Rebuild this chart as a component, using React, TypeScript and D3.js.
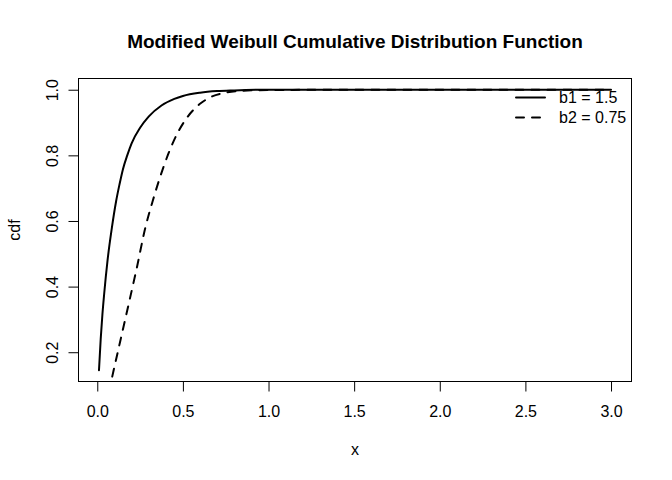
import React, { useEffect, useRef } from "react";
import * as d3 from "d3";

// values
const xSolid = [0.01, 0.02, 0.03, 0.04, 0.06, 0.085, 0.11, 0.13, 0.15, 0.175, 0.2, 0.25, 0.3, 0.375, 0.45, 0.5, 0.6, 0.7, 0.8, 1.0, 1.5, 2.0, 2.5, 3.0];
const ySolid = [0.145, 0.24, 0.315, 0.376, 0.48, 0.578, 0.66, 0.712, 0.758, 0.8, 0.836, 0.884, 0.918, 0.952, 0.972, 0.981, 0.991, 0.996, 0.998, 1.0, 1.0, 1.0, 1.0, 1.0];

const xDashed = [0.05, 0.085, 0.1, 0.15, 0.19, 0.23, 0.28, 0.325, 0.385, 0.45, 0.52, 0.6, 0.66, 0.75, 0.85, 1.0, 1.5, 2.0, 2.5, 3.0];
const yDashed = [0.03, 0.12, 0.155, 0.27, 0.362, 0.455, 0.578, 0.663, 0.762, 0.848, 0.912, 0.957, 0.977, 0.991, 0.997, 0.999, 1.0, 1.0, 1.0, 1.0];

const xTicks = [0, 0.5, 1.0, 1.5, 2.0, 2.5, 3.0];
const yTicks = [0.2, 0.4, 0.6, 0.8, 1.0];

const legendLabels = ["b1 = 1.5", "b2 = 0.75"];
const legendDash = ["none", "8,8"];

const title = "Modified Weibull Cumulative Distribution Function";

const FONT = "'Liberation Sans', Arial, Helvetica, sans-serif";

function App(): JSX.Element {
  const ref = useRef<SVGSVGElement>(null);

  useEffect(() => {
    if (!ref.current) return;
    const svg = d3.select(ref.current);
    svg.selectAll("*").remove();

    const left = 78.5;
    const right = 631.5;
    const top = 78.5;
    const bottom = 381.5;

    // R style 4% padding around the data range of the first curve
    const xr = [xSolid[0], xSolid[xSolid.length - 1]];
    const yr = [d3.min(ySolid)!, d3.max(ySolid)!];
    const xp = (xr[1] - xr[0]) * 0.04;
    const yp = (yr[1] - yr[0]) * 0.04;

    const x = d3.scaleLinear().domain([xr[0] - xp, xr[1] + xp]).range([left, right]);
    const y = d3.scaleLinear().domain([yr[0] - yp, yr[1] + yp]).range([bottom, top]);

    svg
      .append("defs")
      .append("clipPath")
      .attr("id", "plot-clip")
      .append("rect")
      .attr("x", left)
      .attr("y", top)
      .attr("width", right - left)
      .attr("height", bottom - top);

    const line = d3
      .line<number>()
      .x((d) => x(d))
      .curve(d3.curveMonotoneX);

    const curves = [
      { xs: xSolid, ys: ySolid, dash: legendDash[0] },
      { xs: xDashed, ys: yDashed, dash: legendDash[1] },
    ];

    curves.forEach((c) => {
      svg
        .append("path")
        .attr("clip-path", "url(#plot-clip)")
        .attr("d", line.y((_, i) => y(c.ys[i]))(c.xs))
        .attr("fill", "none")
        .attr("stroke", "#000")
        .attr("stroke-width", 2)
        .attr("stroke-linecap", "round")
        .attr("stroke-linejoin", "round")
        .attr("stroke-dasharray", c.dash);
    });

    // box
    svg
      .append("rect")
      .attr("x", left)
      .attr("y", top)
      .attr("width", right - left)
      .attr("height", bottom - top)
      .attr("fill", "none")
      .attr("stroke", "#000")
      .attr("stroke-width", 1);

    // x axis
    const gx = svg
      .append("g")
      .attr("transform", `translate(0,${bottom})`)
      .call(
        d3
          .axisBottom(x)
          .tickValues(xTicks)
          .tickSize(10)
          .tickSizeOuter(0)
          .tickPadding(14)
          .tickFormat((d) => (d as number).toFixed(1))
      );
    gx.select(".domain").attr("d", `M${x(xTicks[0])},0H${x(xTicks[xTicks.length - 1])}`);

    // y axis
    const gy = svg
      .append("g")
      .attr("transform", `translate(${left},0)`)
      .call(
        d3
          .axisLeft(y)
          .tickValues(yTicks)
          .tickSize(10)
          .tickSizeOuter(0)
          .tickFormat((d) => (d as number).toFixed(1))
      );
    gy.select(".domain").attr("d", `M0,${y(yTicks[0])}V${y(yTicks[yTicks.length - 1])}`);
    gy.selectAll(".tick text")
      .attr("x", null)
      .attr("dy", null)
      .attr("text-anchor", "middle")
      .attr("transform", "translate(-21,0) rotate(-90)");

    [gx, gy].forEach((g) => {
      g.selectAll("text").attr("font-family", FONT).attr("font-size", 16).attr("fill", "#000");
      g.selectAll("line, path").attr("stroke", "#000");
    });

    // axis titles
    svg
      .append("text")
      .attr("x", (left + right) / 2)
      .attr("y", 455)
      .attr("text-anchor", "middle")
      .attr("font-family", FONT)
      .attr("font-size", 16)
      .text("x");

    svg
      .append("text")
      .attr("transform", `translate(20,${(top + bottom) / 2}) rotate(-90)`)
      .attr("text-anchor", "middle")
      .attr("font-family", FONT)
      .attr("font-size", 16)
      .text("cdf");

    svg
      .append("text")
      .attr("x", (left + right) / 2)
      .attr("y", 48)
      .attr("text-anchor", "middle")
      .attr("font-family", FONT)
      .attr("font-size", 19)
      .attr("font-weight", "bold")
      .text(title);

    // legend
    legendLabels.forEach((label, i) => {
      const ly = 97.5 + i * 20;
      svg
        .append("line")
        .attr("x1", 516)
        .attr("x2", 545)
        .attr("y1", ly)
        .attr("y2", ly)
        .attr("stroke", "#000")
        .attr("stroke-width", 2)
        .attr("stroke-linecap", "round")
        .attr("stroke-dasharray", legendDash[i]);
      svg
        .append("text")
        .attr("x", 559)
        .attr("y", ly + 5.5)
        .attr("font-family", FONT)
        .attr("font-size", 16)
        .text(label);
    });
  }, []);

  return (
    <svg
      ref={ref}
      width={672}
      height={480}
      style={{ position: "absolute", left: 0, top: 0, background: "#fff" }}
    />
  );
}

export default App;
